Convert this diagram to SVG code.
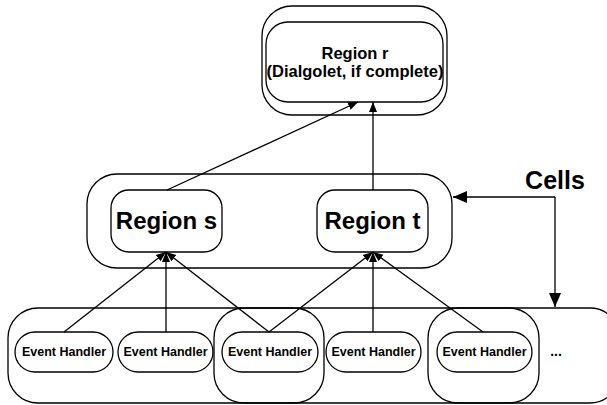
<svg xmlns="http://www.w3.org/2000/svg" width="607" height="405" viewBox="0 0 607 405">
<defs>
<marker id="ah" viewBox="0 0 10 10" refX="10" refY="5" markerWidth="10" markerHeight="10" markerUnits="userSpaceOnUse" orient="auto">
<path d="M0,1 L10,5 L0,9 z" fill="#000"/>
</marker>
<marker id="ahl" viewBox="0 0 14 12" refX="14" refY="6" markerWidth="14" markerHeight="12" markerUnits="userSpaceOnUse" orient="auto">
<path d="M0,0 L14,6 L0,12 z" fill="#000"/>
</marker>
</defs>
<style>
.b{fill:none;stroke:#000;stroke-width:1.3}
line,polyline{stroke:#000;stroke-width:1.3;fill:none}
text{font-family:"Liberation Sans",Arial,sans-serif;font-weight:bold;fill:#000;text-anchor:middle}
.eh{font-size:12.5px}
.rg{font-size:24px}
.rr{font-size:16.5px}
</style>
<rect width="607" height="405" fill="#fff"/>
<g id="cells-row">
<rect class="b" x="8" y="308" width="612" height="95" rx="30"/>
</g>
<g id="cell-3">
<rect class="b" x="214" y="308" width="110" height="95" rx="30"/>
</g>
<g id="cell-5">
<rect class="b" x="428" y="308" width="111" height="95" rx="30"/>
</g>
<g id="middle">
<rect class="b" x="87" y="174" width="365" height="94" rx="30"/>
</g>
<g id="region-r">
<rect class="b" x="262" y="6" width="185" height="109" rx="30"/>
<rect class="b" x="266" y="22" width="177" height="80" rx="22"/>
<text class="rr" x="355" y="59">Region r</text>
<text class="rr" x="355" y="77">(Dialgolet, if complete)</text>
</g>
<g id="region-s">
<rect class="b" x="111" y="190" width="111" height="62" rx="18"/>
<text class="rg" x="166.5" y="229">Region s</text>
</g>
<g id="region-t">
<rect class="b" x="317" y="190" width="111" height="62" rx="18"/>
<text class="rg" x="372.5" y="229">Region t</text>
</g>
<g id="eh1"><rect class="b" x="15" y="332" width="98" height="40" rx="20"/><text class="eh" x="64" y="356">Event Handler</text></g>
<g id="eh2"><rect class="b" x="118" y="332" width="95" height="40" rx="20"/><text class="eh" x="165.5" y="356">Event Handler</text></g>
<g id="eh3"><rect class="b" x="222" y="332" width="96" height="40" rx="20"/><text class="eh" x="270" y="356">Event Handler</text></g>
<g id="eh4"><rect class="b" x="326" y="332" width="95" height="40" rx="20"/><text class="eh" x="373.5" y="356">Event Handler</text></g>
<g id="eh5"><rect class="b" x="437" y="332" width="95" height="40" rx="20"/><text class="eh" x="484.5" y="356">Event Handler</text></g>
<g id="more"><text class="eh" x="556" y="356" style="font-size:14px">...</text></g>
<g id="cells-label"><text x="555" y="189" style="font-size:25px">Cells</text></g>
<g id="connectors">
<line x1="167" y1="190" x2="358" y2="102" marker-end="url(#ah)"/>
<line x1="373" y1="190" x2="373" y2="102" marker-end="url(#ah)"/>
<line x1="64" y1="332" x2="166" y2="252" marker-end="url(#ah)"/>
<line x1="166" y1="332" x2="166" y2="252" marker-end="url(#ah)"/>
<line x1="269" y1="332" x2="166" y2="252" marker-end="url(#ah)"/>
<line x1="269" y1="332" x2="373" y2="252" marker-end="url(#ah)"/>
<line x1="373" y1="332" x2="373" y2="252" marker-end="url(#ah)"/>
<line x1="483" y1="332" x2="373" y2="252" marker-end="url(#ah)"/>
<polyline points="555,197 555,307" marker-end="url(#ahl)"/>
<polyline points="555,197 453,197" marker-end="url(#ahl)"/>
</g>
</svg>
